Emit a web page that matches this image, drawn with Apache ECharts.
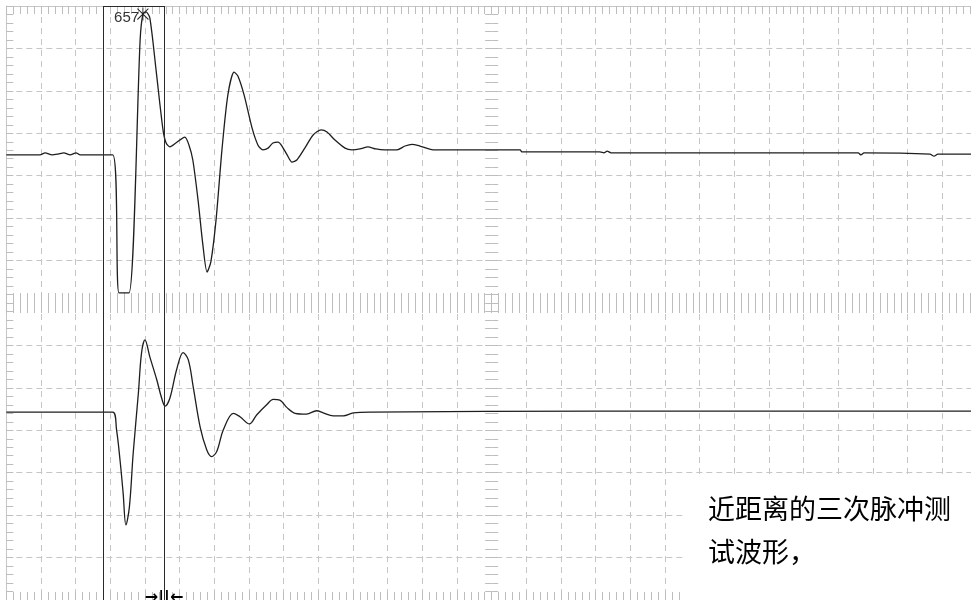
<!DOCTYPE html>
<html>
<head>
<meta charset="utf-8">
<script src="https://cdn.jsdelivr.net/npm/echarts@6/dist/echarts.min.js"></script>
<style>
  html, body { margin: 0; padding: 0; background: #fff; }
  #chart { width: 971px; height: 600px; }
</style>
</head>
<body>
<div id="chart"></div>
<script>
// Screen: 28 x 14 divisions, centre at (0, 0)
const xRange = [-14, 14];
const yRange = [-7, 7];

// Channel 1 waveform [time div, amplitude div]
const upperTrace = [
  [-14, 3.49], [-13.03, 3.49], [-12.88, 3.54], [-12.68, 3.49], [-12.51, 3.51],
  [-12.34, 3.54], [-12.16, 3.49], [-11.99, 3.54], [-11.87, 3.49], [-10.93, 3.49],
  [-10.75, 0.24], [-10.46, 0.24], [-10.14, 6.20], [-10.06, 6.81], [-9.97, 6.86],
  [-9.86, 6.72], [-9.68, 5.49], [-9.48, 4.08], [-9.39, 3.77], [-9.28, 3.68],
  [-9.11, 3.77], [-8.85, 3.91], [-8.73, 3.72], [-8.62, 3.37], [-8.47, 2.43],
  [-8.33, 1.37], [-8.21, 0.73], [-8.10, 0.97], [-7.95, 1.96], [-7.78, 3.61],
  [-7.61, 4.90], [-7.43, 5.44], [-7.32, 5.35], [-7.14, 4.90], [-6.91, 4.12],
  [-6.74, 3.72], [-6.60, 3.61], [-6.45, 3.65], [-6.31, 3.77], [-6.16, 3.79],
  [-6.05, 3.70], [-5.90, 3.49], [-5.76, 3.32], [-5.62, 3.37], [-5.39, 3.65],
  [-5.15, 3.96], [-4.92, 4.08], [-4.75, 4.03], [-4.52, 3.84], [-4.23, 3.65],
  [-4.03, 3.61], [-3.80, 3.63], [-3.57, 3.68], [-3.34, 3.63], [-3.08, 3.61],
  [-2.73, 3.61], [-2.50, 3.70], [-2.30, 3.74], [-2.07, 3.70], [-1.69, 3.61], [0.82, 3.61],
  [0.87, 3.56], [3.12, 3.56], [3.24, 3.54], [3.33, 3.58], [3.44, 3.54],
  [5.43, 3.54], [10.57, 3.54], [10.65, 3.49], [10.74, 3.54], [12.64, 3.51],
  [12.76, 3.46], [12.87, 3.51], [13.82, 3.51], [14, 3.51]
];

// Channel 2 waveform [time div, amplitude div]
const lowerTrace = [
  [-14, -2.57], [-10.93, -2.57], [-10.82, -2.99], [-10.72, -3.70], [-10.63, -4.48],
  [-10.55, -5.23], [-10.45, -4.81], [-10.34, -3.54], [-10.19, -2.12], [-10.10, -1.18],
  [-10.00, -0.87], [-9.86, -1.27], [-9.66, -1.81], [-9.52, -2.24], [-9.42, -2.43],
  [-9.28, -2.24], [-9.09, -1.58], [-8.90, -1.17], [-8.75, -1.34], [-8.61, -1.97],
  [-8.41, -2.92], [-8.22, -3.46], [-8.08, -3.62], [-7.93, -3.50], [-7.74, -2.99],
  [-7.45, -2.60], [-7.26, -2.68], [-6.99, -2.85], [-6.78, -2.64], [-6.49, -2.40],
  [-6.30, -2.27], [-6.11, -2.29], [-5.91, -2.46], [-5.67, -2.60], [-5.34, -2.62],
  [-5.05, -2.54], [-4.86, -2.59], [-4.57, -2.66], [-4.28, -2.66], [-3.99, -2.59],
  [-3.50, -2.57], [3.12, -2.55], [14, -2.55]
];

// Measurement cursors (time div) and the readout at the marked peak
const cursors = [-11.2, -9.45];
const peakPoint = upperTrace[13];
const peakLabel = '657';
const cursorGapMark = '→||←';
const note = '近距离的三次脉冲测\n试波形，';

const gridColor = '#c6c6c6';
const traceColor = '#1e1e1e';
const tickStyle = { color: '#bdbdbd', width: 1 };

// dashed graticule, with the centre line left to the rulers
function splitColors(count, centre) {
  return Array.from({ length: count }, (_, i) => (i === centre ? 'rgba(0,0,0,0)' : gridColor));
}

function rulerAxis(base) {
  return Object.assign({
    type: 'value',
    axisLabel: { show: false },
    splitLine: { show: false },
    axisLine: { show: false },
    minorTick: { show: true, splitNumber: 5, lineStyle: tickStyle },
    axisTick: { show: true, lineStyle: tickStyle }
  }, base);
}

const chart = echarts.init(document.getElementById('chart'), null, { renderer: 'canvas' });

chart.setOption({
  animation: false,
  backgroundColor: '#fff',
  title: {
    text: note,
    left: 686,
    top: 478,
    backgroundColor: '#fff',
    padding: [9, 20, 27, 22],
    textStyle: {
      fontFamily: 'Noto Sans CJK SC',
      fontSize: 27,
      fontWeight: 'normal',
      color: '#000',
      lineHeight: 43
    }
  },
  grid: {
    left: 6.3, top: 6, width: 970.76, height: 594,
    outerBoundsMode: 'none'
  },
  xAxis: [
    rulerAxis({
      min: xRange[0], max: xRange[1], interval: 1, position: 'top',
      axisLine: { show: true, onZero: false, lineStyle: { color: gridColor, width: 1 } },
      axisTick: { show: true, inside: true, length: 8, lineStyle: tickStyle },
      minorTick: { show: true, splitNumber: 5, length: 8, lineStyle: tickStyle },
      splitLine: { show: true, lineStyle: { color: splitColors(29, 14), type: [6, 5], width: 1 } }
    }),
    rulerAxis({
      min: xRange[0], max: xRange[1], interval: 1, position: 'bottom',
      axisLine: { show: false, onZero: false },
      axisTick: { show: true, inside: true, length: 8, lineStyle: tickStyle },
      minorTick: { show: true, splitNumber: 5, length: 8, lineStyle: tickStyle }
    }),
    rulerAxis({
      min: xRange[0], max: xRange[1], interval: 1, position: 'bottom',
      axisLine: { show: false, onZero: true, onZeroAxisIndex: 0 },
      axisTick: { show: true, inside: true, length: 10, lineStyle: tickStyle },
      minorTick: { show: true, splitNumber: 5, length: 10, lineStyle: tickStyle }
    }),
    rulerAxis({
      min: xRange[0], max: xRange[1], interval: 1, position: 'bottom',
      axisLine: { show: false, onZero: true, onZeroAxisIndex: 0 },
      axisTick: { show: true, inside: false, length: 10, lineStyle: tickStyle },
      minorTick: { show: true, splitNumber: 5, length: 10, lineStyle: tickStyle }
    })
  ],
  yAxis: [
    rulerAxis({
      min: yRange[0], max: yRange[1], interval: 1, position: 'left',
      axisLine: { show: true, onZero: false, lineStyle: { color: gridColor, width: 1 } },
      axisTick: { show: true, inside: true, length: 7, lineStyle: tickStyle },
      minorTick: { show: true, splitNumber: 5, length: 7, lineStyle: tickStyle },
      splitLine: { show: true, lineStyle: { color: splitColors(15, 7), type: [6, 4], width: 1 } }
    }),
    rulerAxis({
      min: yRange[0], max: yRange[1], interval: 1, position: 'left',
      axisLine: { show: false, onZero: true, onZeroAxisIndex: 0 },
      axisTick: { show: true, inside: true, length: 6.5, lineStyle: tickStyle },
      minorTick: { show: true, splitNumber: 5, length: 6.5, lineStyle: tickStyle }
    }),
    rulerAxis({
      min: yRange[0], max: yRange[1], interval: 1, position: 'left',
      axisLine: { show: false, onZero: true, onZeroAxisIndex: 0 },
      axisTick: { show: true, inside: false, length: 6.5, lineStyle: tickStyle },
      minorTick: { show: true, splitNumber: 5, length: 6.5, lineStyle: tickStyle }
    })
  ],
  series: [
    {
      name: 'CH1',
      type: 'line',
      data: upperTrace,
      showSymbol: false,
      smooth: 0.25,
      silent: true,
      lineStyle: { color: traceColor, width: 1.3 },
      markLine: {
        silent: true,
        symbol: ['none', 'none'],
        label: { show: false },
        lineStyle: { color: '#2a2a2a', width: 1, type: 'solid' },
        data: [
          { xAxis: cursors[0] },
          { xAxis: cursors[1] },
          [{ coord: [cursors[0], yRange[1]] }, { coord: [cursors[1], yRange[1]] }]
        ]
      },
      markPoint: {
        silent: true,
        symbol: 'path://M0,1L10,11M10,1L0,11M5,0L5,12',
        symbolSize: [11, 13],
        itemStyle: { color: 'none', borderColor: '#222', borderWidth: 1 },
        label: {
          show: true,
          position: 'left',
          distance: 0,
          offset: [4, 4],
          formatter: () => peakLabel,
          color: '#333',
          fontSize: 15,
          fontFamily: 'Liberation Sans Narrow, Liberation Sans'
        },
        data: [{ coord: peakPoint }]
      }
    },
    {
      name: 'CH2',
      type: 'line',
      data: lowerTrace,
      showSymbol: false,
      smooth: 0.35,
      silent: true,
      lineStyle: { color: traceColor, width: 1.3 },
      markPoint: {
        silent: true,
        symbol: 'circle',
        symbolSize: 0,
        label: {
          show: true,
          position: 'inside',
          offset: [0, -2],
          formatter: () => cursorGapMark,
          color: '#000',
          fontSize: 16,
          fontWeight: 'bold',
          fontFamily: 'DejaVu Sans'
        },
        data: [{ coord: [cursors[1], yRange[0]] }]
      }
    }
  ]
});
</script>
</body>
</html>
